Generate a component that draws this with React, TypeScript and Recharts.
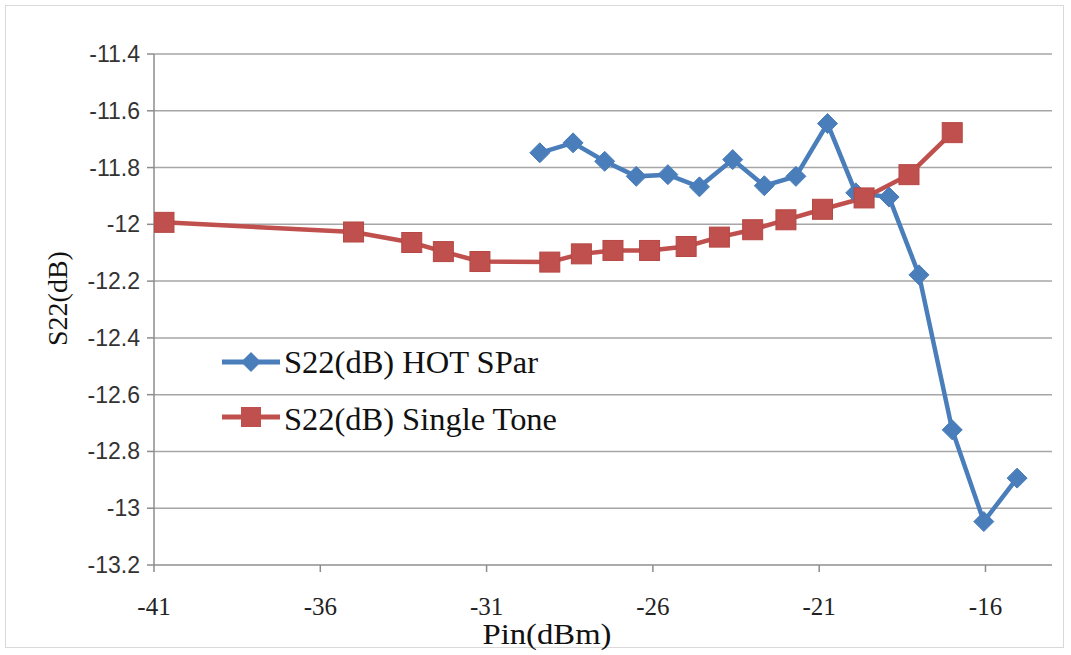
import React from 'react';
import { LineChart, Line, XAxis, YAxis, CartesianGrid, Legend, Label } from 'recharts';

// Pin (dBm) and S22 (dB) values
const hotPin = [-29.4, -28.4, -27.45, -26.5, -25.55, -24.6, -23.6, -22.65, -21.7, -20.75, -19.9, -18.9, -18.0, -17.0, -16.05, -15.05];
const hotS22 = [-11.748, -11.713, -11.778, -11.831, -11.825, -11.868, -11.772, -11.864, -11.831, -11.645, -11.889, -11.904, -12.178, -12.724, -13.047, -12.894];

const tonePin = [-40.7, -35.0, -33.25, -32.3, -31.2, -29.1, -28.15, -27.2, -26.1, -25.0, -24.0, -23.0, -22.0, -20.9, -19.65, -18.3, -17.0];
const toneS22 = [-11.993, -12.027, -12.064, -12.096, -12.131, -12.133, -12.104, -12.092, -12.092, -12.078, -12.045, -12.019, -11.984, -11.947, -11.907, -11.825, -11.677];

const xTicks = [-41, -36, -31, -26, -21, -16];
const yTicks = [-11.4, -11.6, -11.8, -12, -12.2, -12.4, -12.6, -12.8, -13, -13.2];

const hotName = 'S22(dB) HOT SPar';
const toneName = 'S22(dB) Single Tone';
const xTitle = 'Pin(dBm)';
const yTitle = 'S22(dB)';

const BLUE = '#4a7ebb';
const RED = '#c0504d';
const SERIF = "'Liberation Serif', 'Times New Roman', 'DejaVu Serif', serif";
const SANS = "'Liberation Sans', Arial, sans-serif";

const hotData = hotPin.map((x, i) => ({ x, y: hotS22[i] }));
const toneData = tonePin.map((x, i) => ({ x, y: toneS22[i] }));

const Diamond = (props: any) => {
  const { cx, cy } = props;
  if (cx == null || cy == null) return null;
  const r = 10;
  return (
    <polygon
      key={`d-${props.index}`}
      points={`${cx},${cy - r} ${cx + r},${cy} ${cx},${cy + r} ${cx - r},${cy}`}
      fill={BLUE}
      stroke={BLUE}
      strokeWidth={1}
    />
  );
};

const Square = (props: any) => {
  const { cx, cy } = props;
  if (cx == null || cy == null) return null;
  const s = 20;
  return <rect key={`s-${props.index}`} x={cx - s / 2} y={cy - s / 2} width={s} height={s} fill={RED} stroke="#b54744" strokeWidth={1} />;
};

const YTick = (props: any) => {
  const { x, y, payload } = props;
  return (
    <text x={x} y={y} dy={8} textAnchor="end" style={{ fontFamily: SANS, fontSize: 23 }} fill="#333">
      {String(payload.value)}
    </text>
  );
};

const XTick = (props: any) => {
  const { x, y, payload } = props;
  return (
    <text x={x} y={y + 41} textAnchor="middle" style={{ fontFamily: SERIF, fontSize: 25 }} fill="#222">
      {String(payload.value)}
    </text>
  );
};

const LegendContent = () => (
  <svg width={380} height={110} style={{ display: 'block' }}>
    <line x1={7} y1={27} x2={65} y2={27} stroke={BLUE} strokeWidth={5} />
    <polygon points="36,17 46,27 36,37 26,27" fill={BLUE} />
    <text x={69} y={38} style={{ fontFamily: SERIF, fontSize: 31 }} fill="#111" textLength={254} lengthAdjust="spacingAndGlyphs">
      {hotName}
    </text>
    <line x1={7} y1={82} x2={65} y2={82} stroke={RED} strokeWidth={5} />
    <rect x={26} y={72} width={20} height={20} fill={RED} />
    <text x={69} y={95} style={{ fontFamily: SERIF, fontSize: 31 }} fill="#111" textLength={273} lengthAdjust="spacingAndGlyphs">
      {toneName}
    </text>
  </svg>
);

export default function App() {
  return (
    <div style={{ position: 'absolute', left: 0, top: 0, width: 1071, height: 655, background: '#fff' }}>
      <div style={{ position: 'absolute', left: 5, top: 5, width: 1059, height: 643, border: '1px solid #d9d9d9', boxSizing: 'border-box' }} />
      <div style={{ position: 'absolute', left: 0, top: 0 }}>
        <LineChart width={1071} height={655} margin={{ top: 54, right: 19, bottom: 0, left: 54 }}>
          <CartesianGrid horizontal vertical={false} stroke="#a6a6a6" strokeWidth={1.5} />
          <XAxis
            type="number"
            dataKey="x"
            domain={[-41, -14]}
            ticks={xTicks}
            interval={0}
            allowDataOverflow
            height={90}
            axisLine={{ stroke: '#a6a6a6', strokeWidth: 1.5 }}
            tickLine={{ stroke: '#8c8c8c', strokeWidth: 1.5 }}
            tickSize={7}
            tick={<XTick />}
          >
            <Label
              content={(p: any) => {
                const vb = p.viewBox || { x: 154, y: 565, width: 898 };
                return (
                  <text x={vb.x + 393} y={vb.y + 79} textAnchor="middle" style={{ fontFamily: SERIF, fontSize: 30 }} fill="#111" textLength={129} lengthAdjust="spacingAndGlyphs">
                    {xTitle}
                  </text>
                );
              }}
            />
          </XAxis>
          <YAxis
            type="number"
            dataKey="y"
            domain={[-13.2, -11.4]}
            ticks={yTicks}
            interval={0}
            allowDataOverflow
            width={100}
            axisLine={{ stroke: '#8c8c8c', strokeWidth: 1.5 }}
            tickLine={{ stroke: '#8c8c8c', strokeWidth: 1.5 }}
            tickSize={7}
            tickMargin={7}
            tick={<YTick />}
          >
            <Label
              content={(p: any) => {
                const vb = p.viewBox || { x: 54, y: 54, width: 100, height: 511 };
                const cx = vb.x + 3;
                const cy = vb.y + vb.height / 2 - 11;
                return (
                  <text x={cx} y={cy} transform={`rotate(-90, ${cx}, ${cy})`} dy={10} textAnchor="middle" style={{ fontFamily: SERIF, fontSize: 28 }} fill="#111">
                    {yTitle}
                  </text>
                );
              }}
            />
          </YAxis>
          <Legend
            layout="vertical"
            align="center"
            verticalAlign="middle"
            wrapperStyle={{ left: 215, top: 335, width: 380, height: 110 }}
            content={<LegendContent />}
          />
          <Line
            data={hotData}
            dataKey="y"
            name={hotName}
            type="linear"
            stroke={BLUE}
            strokeWidth={4.5}
            dot={<Diamond />}
            activeDot={false}
            isAnimationActive={false}
          />
          <Line
            data={toneData}
            dataKey="y"
            name={toneName}
            type="linear"
            stroke={RED}
            strokeWidth={4.5}
            dot={<Square />}
            activeDot={false}
            isAnimationActive={false}
          />
        </LineChart>
      </div>
    </div>
  );
}
